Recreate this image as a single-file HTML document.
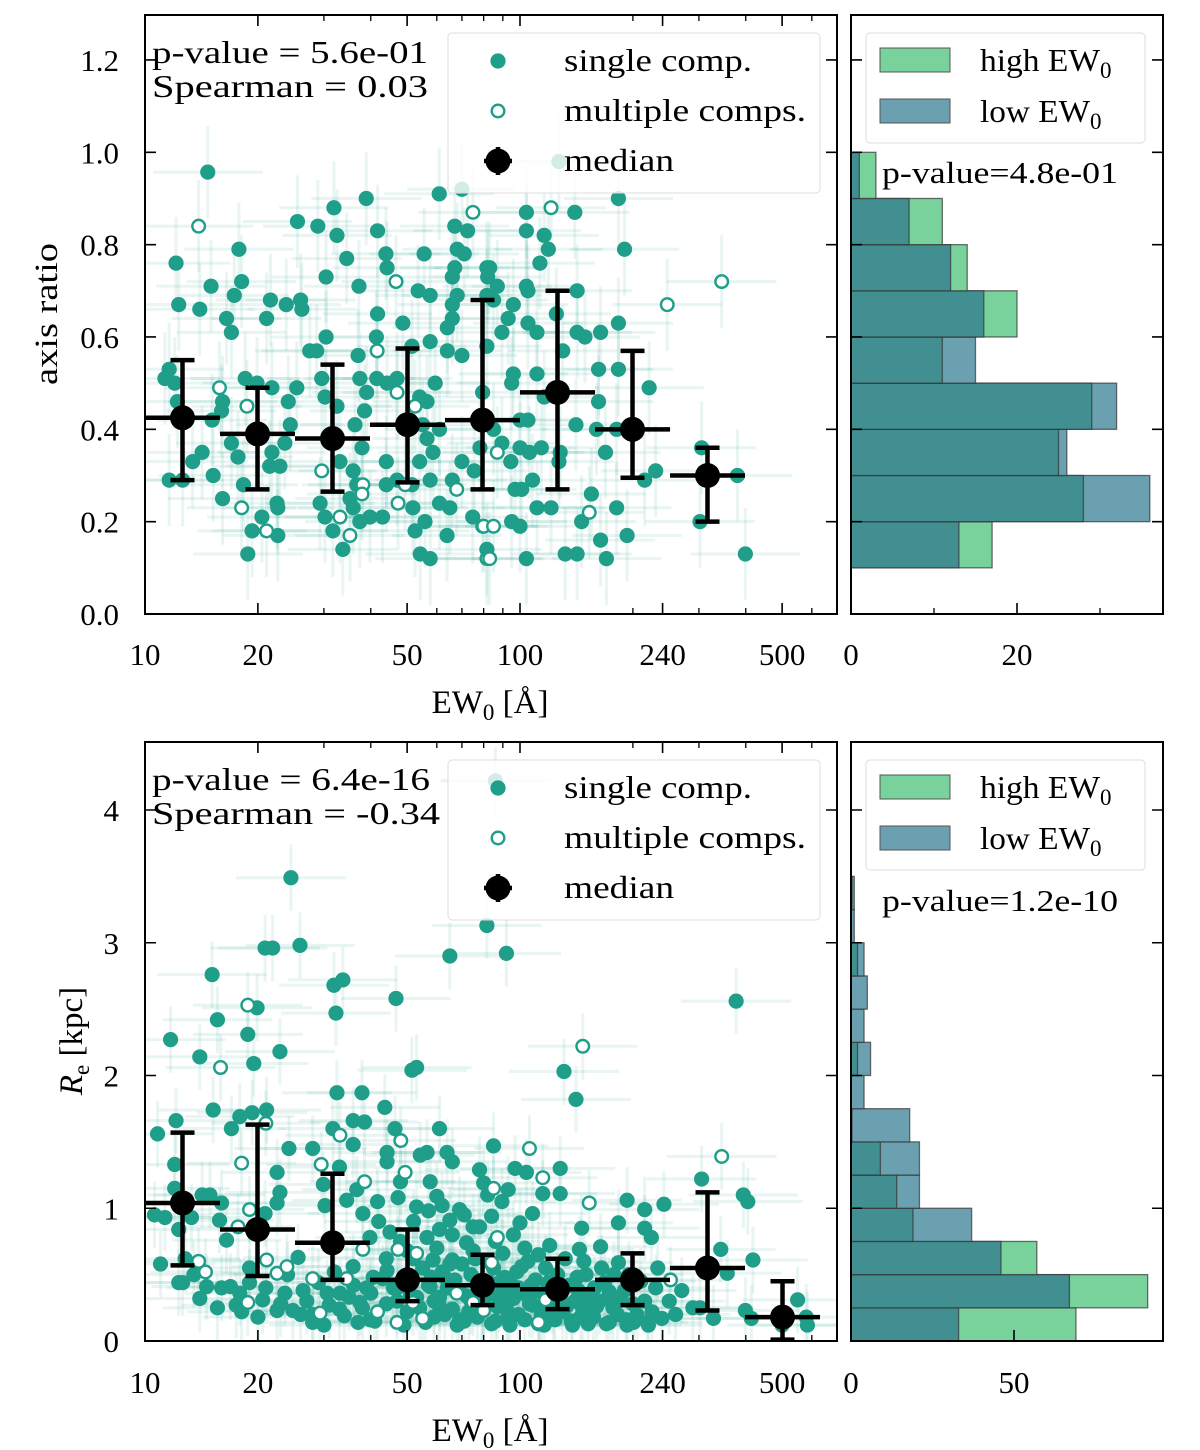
<!DOCTYPE html>
<html><head><meta charset="utf-8"><style>
html,body{margin:0;padding:0;background:#fff;}
svg{display:block;font-family:"Liberation Serif","DejaVu Serif",serif;}
</style></head><body>
<svg id="fig" width="1200" height="1450" viewBox="0 0 1200 1450" xmlns="http://www.w3.org/2000/svg">
<defs>
<clipPath id="clipT"><rect x="145" y="15" width="692" height="599"/></clipPath>
<clipPath id="clipB"><rect x="145" y="742" width="692" height="599"/></clipPath>
</defs>
<g id="gT" clip-path="url(#clipT)"></g>
<g id="gB" clip-path="url(#clipB)"></g>
<g id="gH"></g>
<g id="gA"></g>
</svg>
<script>
// ---------- data ----------
const topSingleEW=[14.7,12.1,17.8,15.0,18.1,17.3,12.3,14.0,16.5,17.0,21.6,21.1,23.8,26.0,26.2,25.5,28.9,31.9,32.5,38.9,41.7,34.5,30.4,37.2,43.9,44.2,55.5,53.5,57.6,60.9,67,72.5,68,71,67,66,68,66,66,64,41.7,48.7,57.6,64,70,30.4,27.5,28.7,41.4,51.5,37,
11.3,11.6,12.0,12.2,16.1,16.0,15.1,18.5,19.9,21.8,25.4,24.1,24.4,23.6,21.8,21.5,22.9,17.0,17.7,14.2,13.4,11.6,12.6,15.2,16.1,18.3,20.5,19.3,22.6,22.5,22.6,18.8,
29.6,30.2,32.5,33.1,37.9,36.3,37.4,39,38.5,41.5,44.2,47,54,56.5,59.4,55,61,56.5,58.6,54,57.6,44,47,44,51.5,35.9,36.7,35.2,35.9,29.3,30.2,31.7,33.7,39.8,43,37.4,51.8,52.5,55.8,57.6,54.2,63.9,66,70,65,61,74.8,81.6,75.5,78.2,79.5,81.6,81.6,81.6,
104,140,183,104,116,119,113,190,83,82,87,104,105,96,85,93,89.5,105,111,125,142,142,149,164,183,130,96,95,111,116,162,183,221,162,141,160,181,169,100,105,85,89.5,94.5,100,106,114,128,127,97,101,108,111,121,155,146,181,193,215,230,305,302,380,399,95,100,104,132,142,164,170,127,70];
const topSingleQ=[.957,.76,.79,.71,.72,.69,.67,.66,.64,.61,.68,.64,.67,.68,.66,.85,.84,.88,.82,.90,.83,.77,.73,.71,.78,.75,.78,.70,.69,.91,.84,.83,.79,.78,.75,.73,.69,.67,.64,.62,.65,.63,.59,.57,.56,.60,.57,.57,.60,.58,.56,
.51,.53,.50,.46,.46,.44,.42,.51,.50,.49,.49,.46,.41,.37,.35,.32,.32,.37,.34,.35,.33,.29,.29,.30,.25,.28,.21,.18,.17,.24,.23,.13,
.51,.47,.45,.33,.36,.41,.51,.48,.44,.51,.50,.51,.47,.46,.50,.41,.40,.38,.35,.33,.29,.33,.29,.28,.28,.31,.28,.25,.23,.24,.21,.18,.14,.21,.21,.20,.23,.18,.20,.12,.13,.17,.29,.33,.23,.24,.21,.14,.31,.36,.48,.58,.69,.75,
.87,.87,.90,.83,.82,.79,.76,.79,.75,.73,.71,.71,.70,.67,.68,.64,.61,.63,.61,.65,.70,.61,.60,.61,.63,.57,.52,.50,.52,.47,.53,.53,.49,.46,.41,.40,.40,.35,.42,.42,.40,.37,.33,.36,.35,.36,.35,.33,.27,.27,.29,.23,.23,.26,.20,.23,.17,.29,.31,.36,.20,.30,.13,.20,.19,.12,.13,.13,.16,.12,.98,.92];
const topMultiEW=[13.9,74.9,46.7,41.6,15.8,18.7,18.1,21.1,47,52.5,49.4,38.1,37.9,33.1,35.2,47.3,67.8,79.5,81.6,121,247,345,87,153,80,85,83,29.6];
const topMultiQ=[.84,.87,.72,.57,.49,.45,.23,.18,.48,.45,.28,.28,.26,.21,.17,.24,.27,.19,.12,.88,.67,.72,.35,.22,.19,.19,.12,.31];

const botSingleEW=[24.5,20.9,21.9,25.9,15.1,19.9,15.6,11.7,18.8,14.0,19.5,22.9,31.9,33.7,32.3,46.7,65,51.5,53,81.6,32.5,37.9,43.6,15.2,12.1,10.8,17.0,17.9,19.3,21.1,31.7,35.9,38.5,35.9,46.4,61,24.2,12.0,28.0,33.0,44.2,44.2,63.9,66,54.2,56.5,22.5,22.9,22.5,14.2,14.9,16.0,11.3,13.3,12.3,12.0,15.8,16.5,20.9,29.9,30.2,34.5,36.7,38.1,41.7,47.3,53,57.6,60,78,80,82,69,65,61,75,
12.3,12.6,14.6,15.6,16.0,16.9,17.9,18.1,19.0,20.6,22.5,24.8,23.6,26.4,25.6,28,30.6,33.1,35.9,39.8,40.6,37.4,39.8,44.2,56.5,58.6,57.6,61,66,72,69,78,
92,377,131,141,85,97,104,128,115,128,193,215,242,305,394,405,93,89.5,84,108,100,146,183,215,224,418,357,343,233,144,164,183,550,580,584,399,414,289,302,328,239,219,201,193,173,
42,45,48,50,52,55,58,60,62,64,67,70,72,74,76,78,80,83,85,88,90,92,95,98,102,105,108,110,114,118,122,126,130,135,140,145,150,155,160,168,175,182,190,200,210,225,250,270,46,50,53,44,40,38,36,34,32,31,29,27,26,24,23,21,20,19,17.5,56,63,68,73,86,94,99,112,124,138,152,66,71,86,96,103,112,120,57,62,48,52,75,82,91,101,117,132,148,165,178,43,47,59,65,77,89,107,127,142,158,173,195,230,260,13.5,11,14,12.8,10.6,500,86,
41,44,47,49,51,54,57,59,61,63,66,69,71,74,77,79,82,84,87,89,93,96,99,103,106,109,113,116,119,123,128,133,137,143,147,153,157,163,170,177,185,192,205,215,220,35,37,39,28,30,33];
const botSingleRe=[3.49,2.96,2.96,2.98,2.76,2.51,2.42,2.27,2.31,2.14,2.09,2.18,2.68,2.72,2.47,2.58,2.90,2.04,2.06,3.13,1.87,1.87,1.76,1.74,1.66,1.56,1.60,1.69,1.72,1.74,1.60,1.66,1.65,1.48,1.60,1.60,1.45,1.33,1.45,1.31,1.42,1.35,1.42,1.35,1.40,1.42,1.27,1.12,1.04,1.10,1.10,1.04,0.93,0.93,0.84,1.15,0.91,0.76,0.96,1.18,1.02,1.06,1.14,0.96,1.05,1.08,1.01,1.20,1.09,1.29,1.19,1.10,0.99,0.91,0.84,0.86,
0.44,0.44,0.41,0.25,0.40,0.41,0.36,0.22,0.44,0.31,0.23,0.23,0.36,0.38,0.63,0.14,0.36,0.36,0.56,0.78,0.48,0.29,0.16,0.53,0.78,0.61,0.41,0.26,0.61,0.74,0.16,0.86,
2.92,2.56,2.03,1.82,1.47,1.30,1.27,1.30,1.11,1.11,1.06,0.99,1.03,1.22,1.10,1.05,1.14,1.05,0.94,0.96,0.89,0.85,0.89,0.85,0.78,0.61,0.51,0.69,0.55,0.69,0.71,0.59,0.31,0.18,0.12,0.23,0.17,0.25,0.25,0.17,0.17,0.14,0.14,0.12,0.14,
0.9,0.82,0.75,0.68,0.9,0.55,0.48,0.7,0.52,0.4,0.46,0.58,0.34,0.5,0.62,0.38,0.28,0.44,0.55,0.32,0.66,0.24,0.42,0.52,0.36,0.6,0.27,0.46,0.2,0.38,0.3,0.5,0.22,0.42,0.3,0.18,0.5,0.36,0.26,0.44,0.3,0.2,0.38,0.28,0.45,0.22,0.3,0.38,0.4,0.22,0.33,0.62,0.36,0.25,0.42,0.19,0.52,0.27,0.44,0.3,0.2,0.5,0.28,0.4,0.18,0.55,0.27,0.14,0.2,0.12,0.22,0.15,0.12,0.2,0.13,0.16,0.12,0.13,0.8,0.95,0.75,0.8,0.7,0.65,0.72,0.98,1.02,1.2,0.62,0.68,0.6,0.48,0.56,0.55,0.62,0.6,0.55,0.5,0.47,0.3,0.3,0.58,0.18,0.38,0.42,0.4,0.48,0.4,0.37,0.5,0.4,0.2,0.5,0.58,0.32,0.62,0.95,0.12,4.22,
0.15,0.28,0.4,0.12,0.35,0.25,0.42,0.18,0.33,0.48,0.24,0.38,0.15,0.3,0.44,0.22,0.35,0.13,0.26,0.45,0.18,0.32,0.4,0.16,0.28,0.37,0.25,0.12,0.44,0.2,0.33,0.26,0.15,0.38,0.24,0.32,0.18,0.3,0.13,0.25,0.33,0.16,0.2,0.3,0.12,0.33,0.14,0.4,0.2,0.12,0.24];
const botMultiEW=[18.8,15.9,21.0,33.1,48.1,18.1,29.5,49.4,19.0,17.7,38.5,13.9,18.8,21.1,22.5,23.9,28.0,29.3,34.5,38.1,41.7,47.3,47,51.8,55,53,67.8,75,79.5,147,106,115,153,345,85,87,252,112,117,84,80,14.5];
const botMultiRe=[2.53,2.06,1.64,1.55,1.51,1.34,1.33,1.27,0.99,0.86,1.20,0.60,0.29,0.61,0.51,0.56,0.47,0.21,0.47,0.69,0.22,0.69,0.14,0.29,0.17,0.66,0.36,0.29,0.23,2.22,1.45,1.23,1.04,1.39,1.15,0.78,0.46,0.14,0.31,0.59,0.23,0.52];

const binEdges=[10,15.85,25.12,39.81,63.10,100,158.5,251.2,398.1,631];
const topMed=[0.425,0.39,0.38,0.41,0.42,0.48,0.40,0.30];
const topMedLo=[0.29,0.27,0.265,0.285,0.27,0.27,0.295,0.20];
const topMedHi=[0.55,0.49,0.54,0.575,0.68,0.70,0.57,0.36];
const botMed=[1.04,0.84,0.74,0.46,0.42,0.39,0.46,0.55,0.18];
const botMedLo=[0.57,0.49,0.46,0.30,0.27,0.24,0.27,0.23,0.01];
const botMedHi=[1.57,1.63,1.26,0.84,0.65,0.62,0.66,1.12,0.45];

const hTopEdges=[0.1,0.2,0.3,0.4,0.5,0.6,0.7,0.8,0.9,1.0];
const hTopHigh=[17,28,25,29,11,20,14,11,3];
const hTopLow=[13,36,26,32,15,16,12,7,1];
const hBotEdges=[0,0.25,0.5,0.75,1.0,1.25,1.5,1.75,2.0,2.25,2.5,2.75,3.0,3.25,3.5];
const hBotHigh=[69,91,57,19,14,9,0.3,0,2,0,0,2,0,0.3];
const hBotLow=[33,67,46,37,21,21,18,4,6,4,5,4,1,1];

// ---------- scales ----------
const xS=ew=>145+375*Math.log10(ew/10);
const yT=q=>614-q*461.7;
const yB=r=>1341-r*132.75;
const xH1=c=>851+c*8.3;
const xH2=c=>851+c*3.26;
const NS="http://www.w3.org/2000/svg";
const TEAL="#1f9e89";
function mk(tag,attrs,parent){const e=document.createElementNS(NS,tag);for(const k in attrs)e.setAttribute(k,attrs[k]);parent.appendChild(e);return e;}
const gT=document.getElementById('gT'),gB=document.getElementById('gB'),gH=document.getElementById('gH'),gA=document.getElementById('gA');

function scatter(g,ews,vals,ys,yerr,open,name){
  for(let i=0;i<ews.length;i++){
    const x=xS(ews[i]),y=ys(vals[i]);
    const l=mk('path',{d:`M${xS(ews[i]/1.4)},${y}H${xS(ews[i]*1.4)}M${x},${ys(vals[i]+yerr)}V${ys(Math.max(0,vals[i]-yerr))}`,stroke:TEAL,'stroke-opacity':0.1,'stroke-width':3,fill:'none'},g);
    
    
  }
}
function points(g,ews,vals,ys,open,name){
  for(let i=0;i<ews.length;i++){
    const c=mk('circle',{cx:xS(ews[i]),cy:ys(vals[i]),r:open?6.3:7.6,fill:open?'#fff':TEAL,stroke:TEAL,'stroke-width':open?2.4:0},g);
    
    
  }
}
function medians(g,vals,lo,hi,ys,name){
  for(let i=0;i<vals.length;i++){
    const x=xS(Math.sqrt(binEdges[i]*binEdges[i+1])),y=ys(vals[i]);
    const p=mk('path',{d:`M${xS(binEdges[i])},${y}H${xS(binEdges[i+1])}M${x},${ys(hi[i])}V${ys(lo[i])}M${x-12},${ys(hi[i])}H${x+12}M${x-12},${ys(lo[i])}H${x+12}`,stroke:'#000','stroke-width':4.5,fill:'none'},g);
    
    
    const c=mk('circle',{cx:x,cy:y,r:12.5,fill:'#000'},g);
    
    
  }
}
scatter(gT,topSingleEW,topSingleQ,yT,0.1,false,'top-single');
scatter(gT,topMultiEW,topMultiQ,yT,0.1,true,'top-multi');
points(gT,topSingleEW,topSingleQ,yT,false,'top-single-point');
points(gT,topMultiEW,topMultiQ,yT,true,'top-multi-point');
scatter(gB,botSingleEW,botSingleRe,yB,0.25,false,'bottom-single');
scatter(gB,botMultiEW,botMultiRe,yB,0.25,true,'bottom-multi');
points(gB,botSingleEW,botSingleRe,yB,false,'bottom-single-point');
points(gB,botMultiEW,botMultiRe,yB,true,'bottom-multi-point');

function scLegend(g,top,name){
  const box=mk('rect',{x:448,y:top,width:372,height:160,rx:4,fill:'#fff','fill-opacity':0.8,stroke:'#ddd','stroke-width':1},g);
  
  
  const c1=mk('circle',{cx:498,cy:top+28,r:7.6,fill:TEAL},g);
  
  
  const c2=mk('circle',{cx:498,cy:top+78,r:6.3,fill:'#fff',stroke:TEAL,'stroke-width':2.4},g);
  
  
  const m=mk('path',{d:`M484,${top+128}H512M498,${top+114}V${top+142}`,stroke:'#000','stroke-width':4.5},g);
  
  
  const c3=mk('circle',{cx:498,cy:top+128,r:12.5,fill:'#000'},g);
  
  
  const labels=['single comp.','multiple comps.','median'];
  const lens=[188,242,110];
  labels.forEach((t,i)=>{const tx=mk('text',{x:564,y:top+38+50*i,'font-size':32,textLength:lens[i],lengthAdjust:'spacingAndGlyphs'},g);tx.textContent=t;
    
    });
}
medians(gT,topMed,topMedLo,topMedHi,yT,'top-median');
scLegend(gT,33,'top-legend');
medians(gB,botMed,botMedLo,botMedHi,yB,'bottom-median');
scLegend(gB,760,'bottom-legend');

const HIGH="#79d29c",LOW="#6aa0b0",OVL="#428f91";
function hist(edges,hi,lo,ys,xs,name){
  for(let i=0;i<hi.length;i++){
    const y1=ys(edges[i+1]),y0=ys(edges[i]),h=y0-y1;
    const mx=Math.max(hi[i],lo[i]),mn=Math.min(hi[i],lo[i]);
    if(mx>0){const r=mk('rect',{x:851,y:y1,width:xs(mx)-851,height:h,fill:hi[i]>=lo[i]?HIGH:LOW,stroke:'#333','stroke-opacity':0.7,'stroke-width':1.3},gH);
      
      }
    if(mn>0){const r=mk('rect',{x:851,y:y1,width:xs(mn)-851,height:h,fill:OVL,stroke:'#333','stroke-opacity':0.7,'stroke-width':1.3},gH);
      
      }
  }
}
hist(hTopEdges,hTopHigh,hTopLow,yT,xH1,'top-hist');
hist(hBotEdges,hBotHigh,hBotLow,yB,xH2,'bottom-hist');
function hLegend(top,ptxt,py,name){
  const b=mk('rect',{x:866,y:top,width:279,height:110,rx:4,fill:'#fff','fill-opacity':0.8,stroke:'#ddd'},gH);
  
  
  const p1=mk('rect',{x:880,y:top+15,width:70,height:24,fill:HIGH,stroke:'#555'},gH);
  
  
  const p2=mk('rect',{x:880,y:top+66,width:70,height:24,fill:LOW,stroke:'#555'},gH);
  
  
  const t1=mk('text',{x:980,y:top+38,'font-size':32},gH);
  t1.innerHTML='<tspan textLength="120" lengthAdjust="spacingAndGlyphs">high EW</tspan><tspan font-size="23" dy="7">0</tspan>';
  
  
  const t2=mk('text',{x:980,y:top+89,'font-size':32},gH);
  t2.innerHTML='<tspan textLength="110" lengthAdjust="spacingAndGlyphs">low EW</tspan><tspan font-size="23" dy="7">0</tspan>';
  
  
  const t3=mk('text',{x:882,y:py,'font-size':31,textLength:236,lengthAdjust:'spacingAndGlyphs'},gH);
  t3.textContent=ptxt;
  
  
}
hLegend(33,'p-value=4.8e-01',183);
hLegend(760,'p-value=1.2e-10',911);

function frame(x,y,w,h,name){const r=mk('rect',{x,y,width:w,height:h,fill:'none',stroke:'#000','stroke-width':2},gA);
  
  }
function txt(x,y,s,anchor,size,name,len){const a={x,y,'font-size':size||29,'text-anchor':anchor||'middle'};if(len){a.textLength=len;a.lengthAdjust='spacingAndGlyphs';}
  const t=mk('text',a,gA);t.textContent=s;
  
  return t;}
const xMajor=[10,20,50,100,240,500];
const xMinor=[30,40,60,70,80,90,200,300,400,600,700];
const topYTicks=[0,0.2,0.4,0.6,0.8,1.0,1.2];
const botYTicks=[0,1,2,3,4];
function xAxis(y0,y1,ly){
  xMajor.forEach(v=>{const x=xS(v);mk('path',{d:`M${x},${y1}v-11M${x},${y0}v11`,stroke:'#000','stroke-width':1.6},gA);txt(x,ly,String(v),'middle',31,'x-tick-label');});
  xMinor.forEach(v=>{const x=xS(v);mk('path',{d:`M${x},${y1}v-6M${x},${y0}v6`,stroke:'#000','stroke-width':1.3},gA);});
}
frame(145,15,692,599,'top-scatter-frame');
frame(851,15,312,599,'top-hist-frame');
frame(145,742,692,599,'bottom-scatter-frame');
frame(851,742,312,599,'bottom-hist-frame');
xAxis(15,614,665);
xAxis(742,1341,1393);
topYTicks.forEach(v=>{const y=yT(v);mk('path',{d:`M145,${y}h11M837,${y}h-11M851,${y}h11M1163,${y}h-11`,stroke:'#000','stroke-width':1.6},gA);txt(119,y+11,v.toFixed(1),'end',31,'y-tick-label');});
botYTicks.forEach(v=>{const y=yB(v);mk('path',{d:`M145,${y}h11M837,${y}h-11M851,${y}h11M1163,${y}h-11`,stroke:'#000','stroke-width':1.6},gA);txt(119,y+11,String(v),'end',31,'y-tick-label');});
[0,20].forEach(v=>{const x=xH1(v);mk('path',{d:`M${x},614v-11`,stroke:'#000','stroke-width':1.6},gA);txt(x,665,String(v),'middle',31,'hist-x-tick-label');});
[10,30].forEach(v=>{const x=xH1(v);mk('path',{d:`M${x},614v-6`,stroke:'#000','stroke-width':1.3},gA);});
[0,50].forEach(v=>{const x=xH2(v);mk('path',{d:`M${x},1341v-11`,stroke:'#000','stroke-width':1.6},gA);txt(x,1393,String(v),'middle',31,'hist-x-tick-label');});
let t=txt(490,713,'','middle',33,'x-axis-title-top');t.innerHTML='EW<tspan font-size="23" dy="7">0</tspan><tspan dy="-7"> [Å]</tspan>';
t=txt(490,1441,'','middle',33,'x-axis-title-bottom');t.innerHTML='EW<tspan font-size="23" dy="7">0</tspan><tspan dy="-7"> [Å]</tspan>';
t=txt(0,0,'axis ratio','middle',33,'y-axis-title-top',142);t.setAttribute('transform','translate(57,314) rotate(-90)');
t=txt(0,0,'','middle',33,'y-axis-title-bottom');t.innerHTML='<tspan font-style="italic">R</tspan><tspan font-size="23" dy="7">e</tspan><tspan dy="-7"> [kpc]</tspan>';t.setAttribute('transform','translate(82,1041) rotate(-90)');
txt(152,63,'p-value = 5.6e-01','start',32,'top-p-value',276);
txt(152,97,'Spearman = 0.03','start',32,'top-spearman',276);
txt(152,790,'p-value = 6.4e-16','start',32,'bottom-p-value',278);
txt(152,824,'Spearman = -0.34','start',32,'bottom-spearman',288);
</script>
</body></html>
